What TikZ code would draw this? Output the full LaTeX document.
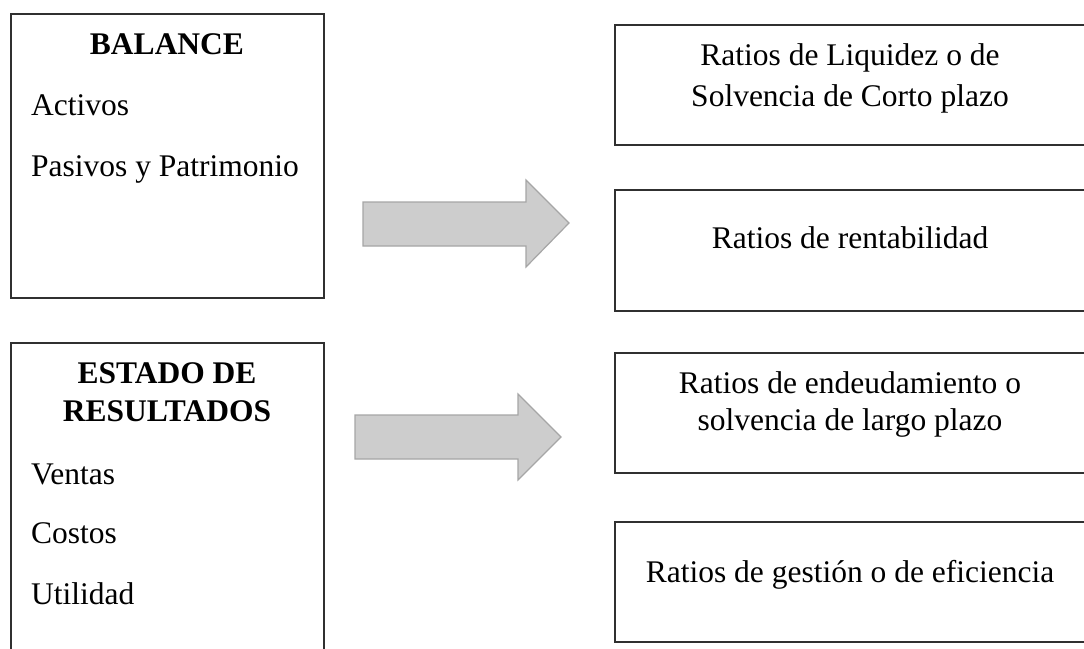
\documentclass[tikz,border=0pt]{standalone}
\usepackage{fontspec}
\setmainfont{Liberation Serif}
\definecolor{boxline}{HTML}{303030}
\definecolor{arrfill}{HTML}{CDCDCD}
\definecolor{arrline}{HTML}{A6A6A6}
\tikzset{
  panel/.style={draw=boxline, line width=1.3pt, rectangle, inner sep=0pt},
  txt/.style={inner sep=0pt, font=\fontsize{31.5}{38}\selectfont},
  bigarrow/.style={fill=arrfill, draw=arrline, line width=1.2pt, line join=miter}
}
\begin{document}
\begin{tikzpicture}[x=1pt,y=-1pt]
\useasboundingbox (0,0) rectangle (1084,648);
\clip (0,0) rectangle (1084,648);
\fill[white] (0,0) rectangle (1084,648);
% left boxes
\node[panel, minimum width=313pt, minimum height=284pt] (bal) at (167.5,156) {};
\node[panel, minimum width=313pt, minimum height=330pt] (est) at (167.5,508) {};
% right boxes
\node[panel, minimum width=500pt, minimum height=120pt] (liq) at (865,85) {};
\node[panel, minimum width=500pt, minimum height=121pt] (ren) at (865,250.5) {};
\node[panel, minimum width=500pt, minimum height=120pt] (end) at (865,413) {};
\node[panel, minimum width=500pt, minimum height=120pt] (ges) at (865,582) {};
% texts left
\node[txt, anchor=base, font=\fontsize{31.5}{38}\selectfont\bfseries] (t1) at (167,54) {BALANCE};
\node[txt, anchor=base west] (t2) at (31,115) {Activos};
\node[txt, anchor=base west] (t3) at (31,176) {Pasivos y Patrimonio};
\node[txt, anchor=base, font=\fontsize{31.5}{38}\selectfont\bfseries] (t4) at (167,383) {ESTADO DE};
\node[txt, anchor=base, font=\fontsize{31.5}{38}\selectfont\bfseries] (t5) at (167,421) {RESULTADOS};
\node[txt, anchor=base west] (t6) at (31,484) {Ventas};
\node[txt, anchor=base west] (t7) at (31,543) {Costos};
\node[txt, anchor=base west] (t8) at (31,604) {Utilidad};
% texts right
\node[txt, anchor=base] (r1) at (850,65) {Ratios de Liquidez o de};
\node[txt, anchor=base] (r2) at (850,106) {Solvencia de Corto plazo};
\node[txt, anchor=base] (r3) at (850,248) {Ratios de rentabilidad};
\node[txt, anchor=base] (r4) at (850,393) {Ratios de endeudamiento o};
\node[txt, anchor=base] (r5) at (850,430) {solvencia de largo plazo};
\node[txt, anchor=base] (r6) at (850,582) {Ratios de gestión o de eficiencia};
% arrows
\draw[bigarrow] (363,202) -- (526,202) -- (526,180) -- (569,223) -- (526,267) -- (526,246) -- (363,246) -- cycle;
\draw[bigarrow] (355,415) -- (518,415) -- (518,394) -- (561,437) -- (518,480) -- (518,459) -- (355,459) -- cycle;
\end{tikzpicture}
\end{document}
